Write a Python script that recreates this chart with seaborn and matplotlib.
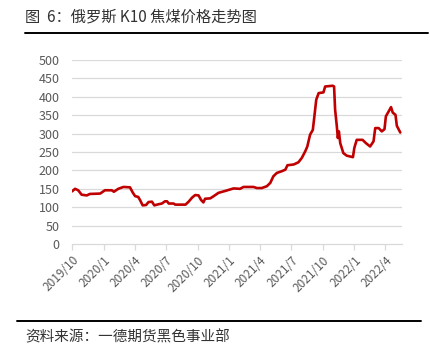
import matplotlib
matplotlib.use("Agg")
import matplotlib.pyplot as plt
import seaborn as sns
import pandas as pd

dates = [
    "2019-10-01", "2019-10-10", "2019-10-19", "2019-10-29", "2019-11-13", "2019-11-22",
    "2019-12-22", "2020-01-05", "2020-01-25", "2020-01-31", "2020-02-13", "2020-02-28",
    "2020-03-18", "2020-03-26", "2020-04-02", "2020-04-11", "2020-04-16", "2020-04-24",
    "2020-05-04", "2020-05-11", "2020-05-21", "2020-05-28", "2020-06-09", "2020-06-19",
    "2020-06-28", "2020-07-04", "2020-07-09", "2020-07-23", "2020-07-28", "2020-08-27",
    "2020-09-05", "2020-09-15", "2020-09-24", "2020-10-04", "2020-10-11", "2020-10-18",
    "2020-10-23", "2020-11-07", "2020-11-17", "2020-12-01", "2020-12-20", "2021-01-14",
    "2021-02-02", "2021-02-12", "2021-03-13", "2021-03-23", "2021-04-06", "2021-04-21",
    "2021-05-01", "2021-05-10", "2021-05-20", "2021-06-04", "2021-06-14", "2021-06-20",
    "2021-07-08", "2021-07-22", "2021-08-01", "2021-08-11", "2021-08-17", "2021-08-25",
    "2021-09-02", "2021-09-06", "2021-09-12", "2021-09-19", "2021-10-03", "2021-10-08",
    "2021-10-30", "2021-11-03", "2021-11-06", "2021-11-11", "2021-11-14", "2021-11-17",
    "2021-11-21", "2021-11-30", "2021-12-10", "2021-12-28", "2022-01-01", "2022-01-08",
    "2022-01-25", "2022-02-04", "2022-02-16", "2022-02-26", "2022-03-03", "2022-03-13",
    "2022-03-22", "2022-03-30", "2022-04-03", "2022-04-11", "2022-04-18", "2022-04-23",
    "2022-05-01", "2022-05-05", "2022-05-15",
]
prices = [
    143, 150, 146, 134, 132, 136,
    137, 146, 146, 142, 150, 155,
    154, 140, 130, 128, 120, 105,
    106, 114, 115, 105, 108, 110,
    116, 116, 110, 110, 107, 107,
    115, 126, 133, 132, 120, 113,
    123, 124, 130, 139, 144, 151,
    150, 155, 155, 152, 152, 157,
    166, 184, 193, 198, 202, 214,
    216, 222, 234, 252, 265, 297,
    310, 342, 392, 410, 412, 428,
    430, 428, 365, 320, 288, 306,
    274, 247, 240, 236, 261, 283,
    283, 274, 265, 279, 315, 315,
    306, 312, 347, 360, 372, 357,
    351, 321, 303,
]
tick_dates = ["2019-10-01", "2020-01-01", "2020-04-01", "2020-07-01", "2020-10-01",
              "2021-01-01", "2021-04-01", "2021-07-01", "2021-10-01", "2022-01-01",
              "2022-04-01"]
tick_labels = ["2019/10", "2020/1", "2020/4", "2020/7", "2020/10", "2021/1",
               "2021/4", "2021/7", "2021/10", "2022/1", "2022/4"]
y_ticks = [0, 50, 100, 150, 200, 250, 300, 350, 400, 450, 500]

title = "图  6：俄罗斯 K10 焦煤价格走势图"
source = "资料来源：一德期货黑色事业部"

sns.set_theme(style="white")
plt.rcParams['font.family'] = ['Noto Sans CJK SC', 'DejaVu Sans']

df = pd.DataFrame({"date": pd.to_datetime(dates), "price": prices})

fig = plt.figure(figsize=(4.31, 3.5), dpi=100)
ax = fig.add_axes([72/431, 1-244/350, (402-72)/431, (244-60)/350])

sns.lineplot(data=df, x="date", y="price", ax=ax, color="#c00000", linewidth=1.9)

ax.set_ylim(0, 500)
ax.set_yticks(y_ticks)
ax.set_xlim(pd.Timestamp("2019-10-01"), pd.Timestamp("2022-05-20"))
ax.set_xticks(pd.to_datetime(tick_dates))
ax.set_xticklabels(tick_labels, rotation=45, ha="right", rotation_mode="anchor")
ax.set_xlabel("")
ax.set_ylabel("")

for y in y_ticks[1:]:
    ax.axhline(y, color="#d9d9d9", linewidth=0.9, zorder=0)

for s in ["top", "right", "left"]:
    ax.spines[s].set_visible(False)
ax.spines["bottom"].set_color("#d9d9d9")
ax.spines["bottom"].set_linewidth(0.9)

ax.tick_params(axis="y", length=0, labelsize=9, labelcolor="#595959", pad=9)
ax.tick_params(axis="x", length=4, width=0.9, color="#d9d9d9", direction="out",
               labelsize=8.5, labelcolor="#595959", pad=3, bottom=True)

fig.text(25/431, 1-17/350, title, fontsize=11, color="#333333", va="center", ha="left")
fig.add_artist(plt.Line2D([25/431, 428/431], [1-33/350, 1-33/350], color="black", linewidth=1.4))
fig.add_artist(plt.Line2D([17/431, 421/431], [1-321/350, 1-321/350], color="black", linewidth=1.4))
fig.text(25/431, 1-337/350, source, fontsize=10.5, color="#333333", va="center", ha="left")

fig.savefig("out.png", dpi=100)
